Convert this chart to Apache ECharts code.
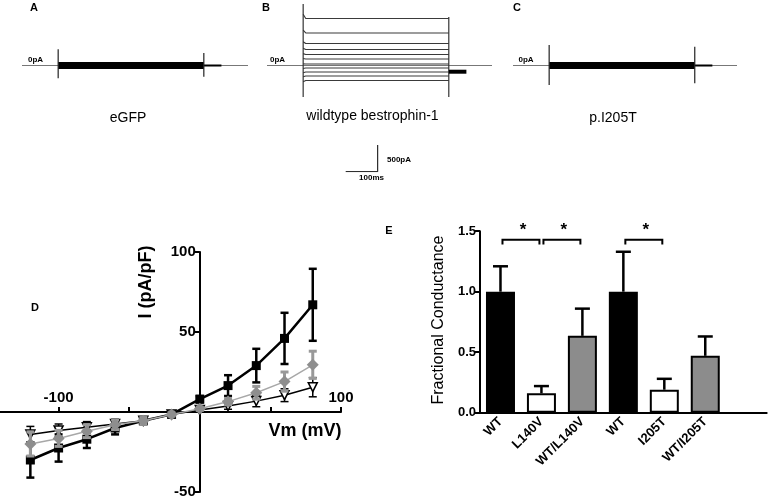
<!DOCTYPE html>
<html><head><meta charset="utf-8">
<script src="https://cdn.jsdelivr.net/npm/echarts@6/dist/echarts.min.js"></script>
<style>html,body{margin:0;padding:0;background:#fff}#c{width:769px;height:501px}</style>
</head><body><div id="c"></div>
<script>
// ---------- Panels A-C: current traces (time in ms, current in pA) ----------
const sweepStartMs = 113, sweepEndMs = 568, tailEndMs = 623;
const traceEndMs = [706, 703, 700];               // A, B, C record length
const wtSteadyPa = [879, 608, 411, 299, 206, 122, 28, -47, -122, -196, -280];
const wtOnsetPa  = [960, 660, 445, 322, 222, 132, 30, -55, -135, -212, -305];
const wtOnSpikePa = [1150, -589];
const wtOffSpikePa = [907, -589];
const wtTailPa = -116;
const egfpBandPa = 0;
const egfpOnSpikePa = [303, -239];
const egfpOffSpikePa = [234, -209];
const i205tBandPa = 0;
const i205tOnSpikePa = [383, -365];
const i205tOffSpikePa = [352, -333];
const scaleBarMs = 100, scaleBarPa = 500;

// ---------- Panel D: I-V relation ----------
const vm      = [-120, -100, -80, -60, -40, -20, 0, 20, 40, 60, 80];
const wtI     = [-30, -22.5, -17, -10, -5.5, -1.5, 8, 16.5, 29, 46, 67];
const wtErr   = [11, 8.5, 5.5, 4, 2, 1, 2, 6.5, 10.5, 16, 22.5];
const hetI    = [-20, -16.5, -12, -8, -5.5, -1.5, 2, 6.5, 12, 19, 29.5];
const hetErr  = [7.5, 5, 4, 3, 2, 1, 1, 2, 4, 6, 8.5];
const mutI    = [-14, -11.5, -9.5, -7.5, -5.5, -1.5, 1.2, 3.7, 6.8, 10.5, 15.5];
const mutErr  = [5, 4, 3.5, 3, 2, 1, 1, 2, 3.5, 4, 6];
const ivXRange = [-150, 100];
const ivYRange = [-50, 100];

// ---------- Panel E: fractional conductance ----------
const condCats   = ['WT', 'L140V', 'WT/L140V', 'WT', 'I205T', 'WT/I205T', ''];
const condValues = [1.0, 0.16, 0.635, 1.0, 0.19, 0.47, null];
const condErr    = [0.21, 0.06, 0.225, 0.33, 0.09, 0.16, null];
const condColors = ['#000000', '#ffffff', '#8c8c8c', '#000000', '#ffffff', '#8c8c8c', '#ffffff'];
const sigPairs   = [[0, 1], [1, 2], [3, 4]];
const sigLevel   = 1.43;

const FONT = '"Liberation Sans", Arial, sans-serif';
const chart = echarts.init(document.getElementById('c'));

// Panel D grid geometry (pixels) and axis offsets so the axes cross at (0,0)
const ivGrid = { left: -12, top: 252, width: 353, height: 240 };
const ivXOffset = -(ivGrid.height * (0 - ivYRange[0]) / (ivYRange[1] - ivYRange[0]));
const ivYOffset = -(ivGrid.width * (0 - ivXRange[0]) / (ivXRange[1] - ivXRange[0]));

function ln(grid, data, color, width, z) {
  return { type: 'line', xAxisIndex: grid, yAxisIndex: grid, data: data, symbol: 'none',
    lineStyle: { color: color, width: width }, z: z || 2, silent: true, animation: false };
}

const series = [];
[0, 1, 2].forEach(g => series.push(ln(g, [[0, 0], [traceEndMs[g], 0]], '#777', 1, 1)));
// A: eGFP
series.push(ln(0, [[sweepStartMs, egfpBandPa], [sweepEndMs, egfpBandPa]], '#000', 7, 3));
series.push(ln(0, [[sweepStartMs, egfpOnSpikePa[0]], [sweepStartMs, egfpOnSpikePa[1]]], '#222', 1.2, 4));
series.push(ln(0, [[sweepEndMs, egfpOffSpikePa[0]], [sweepEndMs, egfpOffSpikePa[1]]], '#222', 1.2, 4));
series.push(ln(0, [[sweepEndMs, egfpBandPa], [tailEndMs, egfpBandPa]], '#000', 2, 3));
// B: wildtype family
wtSteadyPa.forEach((lv, i) => {
  series.push(ln(1, [[sweepStartMs, wtOnsetPa[i]], [sweepStartMs + 8, lv], [sweepEndMs, lv]], '#3a3a3a', 1.1, 3));
});
series.push(ln(1, [[sweepStartMs, wtOnSpikePa[0]], [sweepStartMs, wtOnSpikePa[1]]], '#333', 1.2, 4));
series.push(ln(1, [[sweepEndMs, wtOffSpikePa[0]], [sweepEndMs, wtOffSpikePa[1]]], '#333', 1.2, 4));
series.push(ln(1, [[sweepEndMs, wtTailPa], [tailEndMs, wtTailPa]], '#000', 4, 4));
// C: p.I205T
series.push(ln(2, [[sweepStartMs, i205tBandPa], [sweepEndMs, i205tBandPa]], '#000', 7, 3));
series.push(ln(2, [[sweepStartMs, i205tOnSpikePa[0]], [sweepStartMs, i205tOnSpikePa[1]]], '#222', 1.2, 4));
series.push(ln(2, [[sweepEndMs, i205tOffSpikePa[0]], [sweepEndMs, i205tOffSpikePa[1]]], '#222', 1.2, 4));
series.push(ln(2, [[sweepEndMs, i205tBandPa], [tailEndMs, i205tBandPa]], '#000', 2, 3));
// scale bar
series.push(ln(3, [[0, 0], [scaleBarMs, 0], [scaleBarMs, scaleBarPa]], '#000', 1, 3));

// D: error bars
function errBars(color, lw, capW) {
  return function (params, api) {
    const x = api.value(0), y = api.value(1), e = api.value(2);
    const t = api.coord([x, y + e]), b = api.coord([x, y - e]);
    const st = { stroke: color, lineWidth: lw, fill: null };
    return { type: 'group', children: [
      { type: 'line', shape: { x1: t[0], y1: t[1], x2: b[0], y2: b[1] }, style: st },
      { type: 'line', shape: { x1: t[0] - capW / 2, y1: t[1], x2: t[0] + capW / 2, y2: t[1] }, style: st },
      { type: 'line', shape: { x1: b[0] - capW / 2, y1: b[1], x2: b[0] + capW / 2, y2: b[1] }, style: st }
    ] };
  };
}
function ivErr(vals, errs, color, lw, cap, z) {
  return { type: 'custom', xAxisIndex: 4, yAxisIndex: 4, z: z, silent: true, animation: false,
    renderItem: errBars(color, lw, cap), encode: { x: 0, y: 1 },
    data: vm.map((v, i) => [v, vals[i], errs[i]]) };
}
series.push(ivErr(wtI, wtErr, '#000', 2.5, 8, 5));
series.push({ type: 'line', xAxisIndex: 4, yAxisIndex: 4, z: 6, animation: false,
  data: vm.map((v, i) => [v, wtI[i]]), symbol: 'rect', symbolSize: 9,
  lineStyle: { color: '#000', width: 2.5 }, itemStyle: { color: '#000' } });
series.push(ivErr(mutI, mutErr, '#000', 1.5, 8, 7));
series.push({ type: 'line', xAxisIndex: 4, yAxisIndex: 4, z: 8, animation: false,
  data: vm.map((v, i) => [v, mutI[i]]), symbol: 'triangle', symbolRotate: 180, symbolSize: 9,
  lineStyle: { color: '#000', width: 1.5 }, itemStyle: { color: '#fff', borderColor: '#000', borderWidth: 1.5 } });
series.push(ivErr(hetI, hetErr, '#999', 3, 8, 9));
series.push({ type: 'line', xAxisIndex: 4, yAxisIndex: 4, z: 10, animation: false,
  data: vm.map((v, i) => [v, hetI[i]]), symbol: 'diamond', symbolSize: 12,
  lineStyle: { color: '#a8a8a8', width: 1.5 }, itemStyle: { color: '#8e8e8e' } });

// E: bars + error bars + significance
series.push({ type: 'bar', xAxisIndex: 5, yAxisIndex: 5, barWidth: 29, z: 3, animation: false,
  data: condValues.map((v, i) => ({ value: v, itemStyle: { color: condColors[i], borderColor: '#000', borderWidth: 2 } })) });
series.push({ type: 'custom', xAxisIndex: 5, yAxisIndex: 5, z: 2, animation: false, silent: true,
  encode: { x: 0, y: 1 },
  data: condValues.map((v, i) => [i, v, condErr[i]]).filter(d => d[1] != null),
  renderItem: function (params, api) {
    const i = api.value(0), v = api.value(1), e = api.value(2);
    const b = api.coord([i, v]), t = api.coord([i, v + e]);
    const st = { stroke: '#000', lineWidth: 2.5 };
    return { type: 'group', children: [
      { type: 'line', shape: { x1: b[0], y1: b[1], x2: t[0], y2: t[1] }, style: st },
      { type: 'line', shape: { x1: t[0] - 7.5, y1: t[1], x2: t[0] + 7.5, y2: t[1] }, style: st }
    ] };
  } });
series.push({ type: 'custom', xAxisIndex: 5, yAxisIndex: 5, z: 4, animation: false, silent: true, clip: false,
  encode: { x: 0, y: 2 },
  data: sigPairs.map(p => [p[0], p[1], sigLevel]),
  renderItem: function (params, api) {
    const a = api.value(0), b = api.value(1), y = api.value(2);
    const pa = api.coord([a, y]), pb = api.coord([b, y]);
    const leg = api.coord([a, y - 0.04])[1];
    const x1 = pa[0] + 2, x2 = pb[0] - 2;
    return { type: 'group', children: [
      { type: 'polyline', shape: { points: [[x1, leg], [x1, pa[1]], [x2, pa[1]], [x2, leg]] },
        style: { stroke: '#000', lineWidth: 2, fill: null } },
      { type: 'text', style: { text: '*', x: (x1 + x2) / 2 + 2, y: pa[1] - 9, textAlign: 'center',
        textVerticalAlign: 'middle', font: 'bold 17px ' + FONT, fill: '#000' } }
    ] };
  } });

const hiddenX = max => ({ type: 'value', min: 0, max: max, show: false });
const hiddenY = (min, max) => ({ type: 'value', min: min, max: max, show: false });
const axBlack = { lineStyle: { color: '#000', width: 2 } };

function txt(text, x, y, size, weight, extra) {
  return Object.assign({ type: 'text', x: x, y: y, silent: true,
    style: { text: text, font: (weight || 'normal') + ' ' + size + 'px ' + FONT, fill: '#000',
      textAlign: 'center', textVerticalAlign: 'middle' } }, extra || {});
}
const g = o => Object.assign({ outerBoundsMode: 'none', containLabel: false }, o);

chart.setOption({
  animation: false,
  grid: [
    g({ left: 22, top: 0, width: 226, height: 100 }),
    g({ left: 267, top: 0, width: 225, height: 100 }),
    g({ left: 513, top: 0, width: 224, height: 100 }),
    g({ left: 345.7, top: 145, width: 32, height: 26.7 }),
    g(ivGrid),
    g({ left: 480, top: 231.2, width: 286.7, height: 181.5 })
  ],
  xAxis: [
    Object.assign(hiddenX(traceEndMs[0]), { gridIndex: 0 }),
    Object.assign(hiddenX(traceEndMs[1]), { gridIndex: 1 }),
    Object.assign(hiddenX(traceEndMs[2]), { gridIndex: 2 }),
    Object.assign(hiddenX(scaleBarMs), { gridIndex: 3 }),
    { gridIndex: 4, type: 'value', min: ivXRange[0], max: ivXRange[1], interval: 50,
      position: 'bottom', offset: ivXOffset,
      axisLine: { onZero: false, lineStyle: { color: '#000', width: 2 } },
      axisTick: { inside: true, length: 5, lineStyle: { color: '#000', width: 2 } },
      splitLine: { show: false },
      axisLabel: { inside: true, margin: 7, showMinLabel: false, showMaxLabel: true,
        formatter: v => (v === -100 || v === 100) ? String(v) : '',
        color: '#000', fontWeight: 'bold', fontSize: 15, fontFamily: FONT } },
    { gridIndex: 5, type: 'category', data: condCats,
      axisLine: axBlack,
      axisTick: { alignWithLabel: true, length: 5, lineStyle: { color: '#000', width: 2 } },
      axisLabel: { interval: 0, rotate: 45, margin: 7, color: '#000', fontWeight: 'bold', fontSize: 13, fontFamily: FONT } }
  ],
  yAxis: [
    Object.assign(hiddenY(-645, 1225), { gridIndex: 0 }),
    Object.assign(hiddenY(-645, 1225), { gridIndex: 1 }),
    Object.assign(hiddenY(-645, 1225), { gridIndex: 2 }),
    Object.assign(hiddenY(0, scaleBarPa), { gridIndex: 3 }),
    { gridIndex: 4, type: 'value', min: ivYRange[0], max: ivYRange[1], interval: 50,
      position: 'left', offset: ivYOffset,
      axisLine: { show: true, onZero: false, lineStyle: { color: '#000', width: 2 } },
      axisTick: { show: true, length: 5, lineStyle: { color: '#000', width: 2 } },
      splitLine: { show: false },
      axisLabel: { margin: 4, formatter: v => v === 0 ? '' : String(v),
        color: '#000', fontWeight: 'bold', fontSize: 15, fontFamily: FONT } },
    { gridIndex: 5, type: 'value', min: 0, max: 1.5, interval: 0.5,
      axisLine: { show: true, lineStyle: { color: '#000', width: 2 } },
      axisTick: { show: true, length: 6, lineStyle: { color: '#000', width: 2 } },
      splitLine: { show: false },
      axisLabel: { margin: 4, formatter: v => v.toFixed(1),
        color: '#000', fontWeight: 'bold', fontSize: 13, fontFamily: FONT } }
  ],
  graphic: [
    txt('A', 34, 8, 11, 'bold'), txt('B', 266, 8, 11, 'bold'), txt('C', 517, 8, 11, 'bold'),
    txt('D', 35, 308, 11, 'bold'), txt('E', 389, 231, 11, 'bold'),
    txt('0pA', 35.5, 60, 8, 'bold'), txt('0pA', 277.5, 60, 8, 'bold'), txt('0pA', 526, 60, 8, 'bold'),
    txt('eGFP', 128, 118, 14), txt('wildtype bestrophin-1', 372.5, 116, 14), txt('p.I205T', 613, 118, 14),
    txt('500pA', 399, 160, 8, 'bold'), txt('100ms', 371.5, 178, 8, 'bold'),
    txt('I (pA/pF)', 146, 282, 18, 'bold', { rotation: Math.PI / 2 }),
    txt('Vm (mV)', 305, 431, 18, 'bold'),
    txt('Fractional Conductance', 439, 320, 16, 'normal', { rotation: Math.PI / 2 })
  ],
  series: series
});
</script></body></html>
